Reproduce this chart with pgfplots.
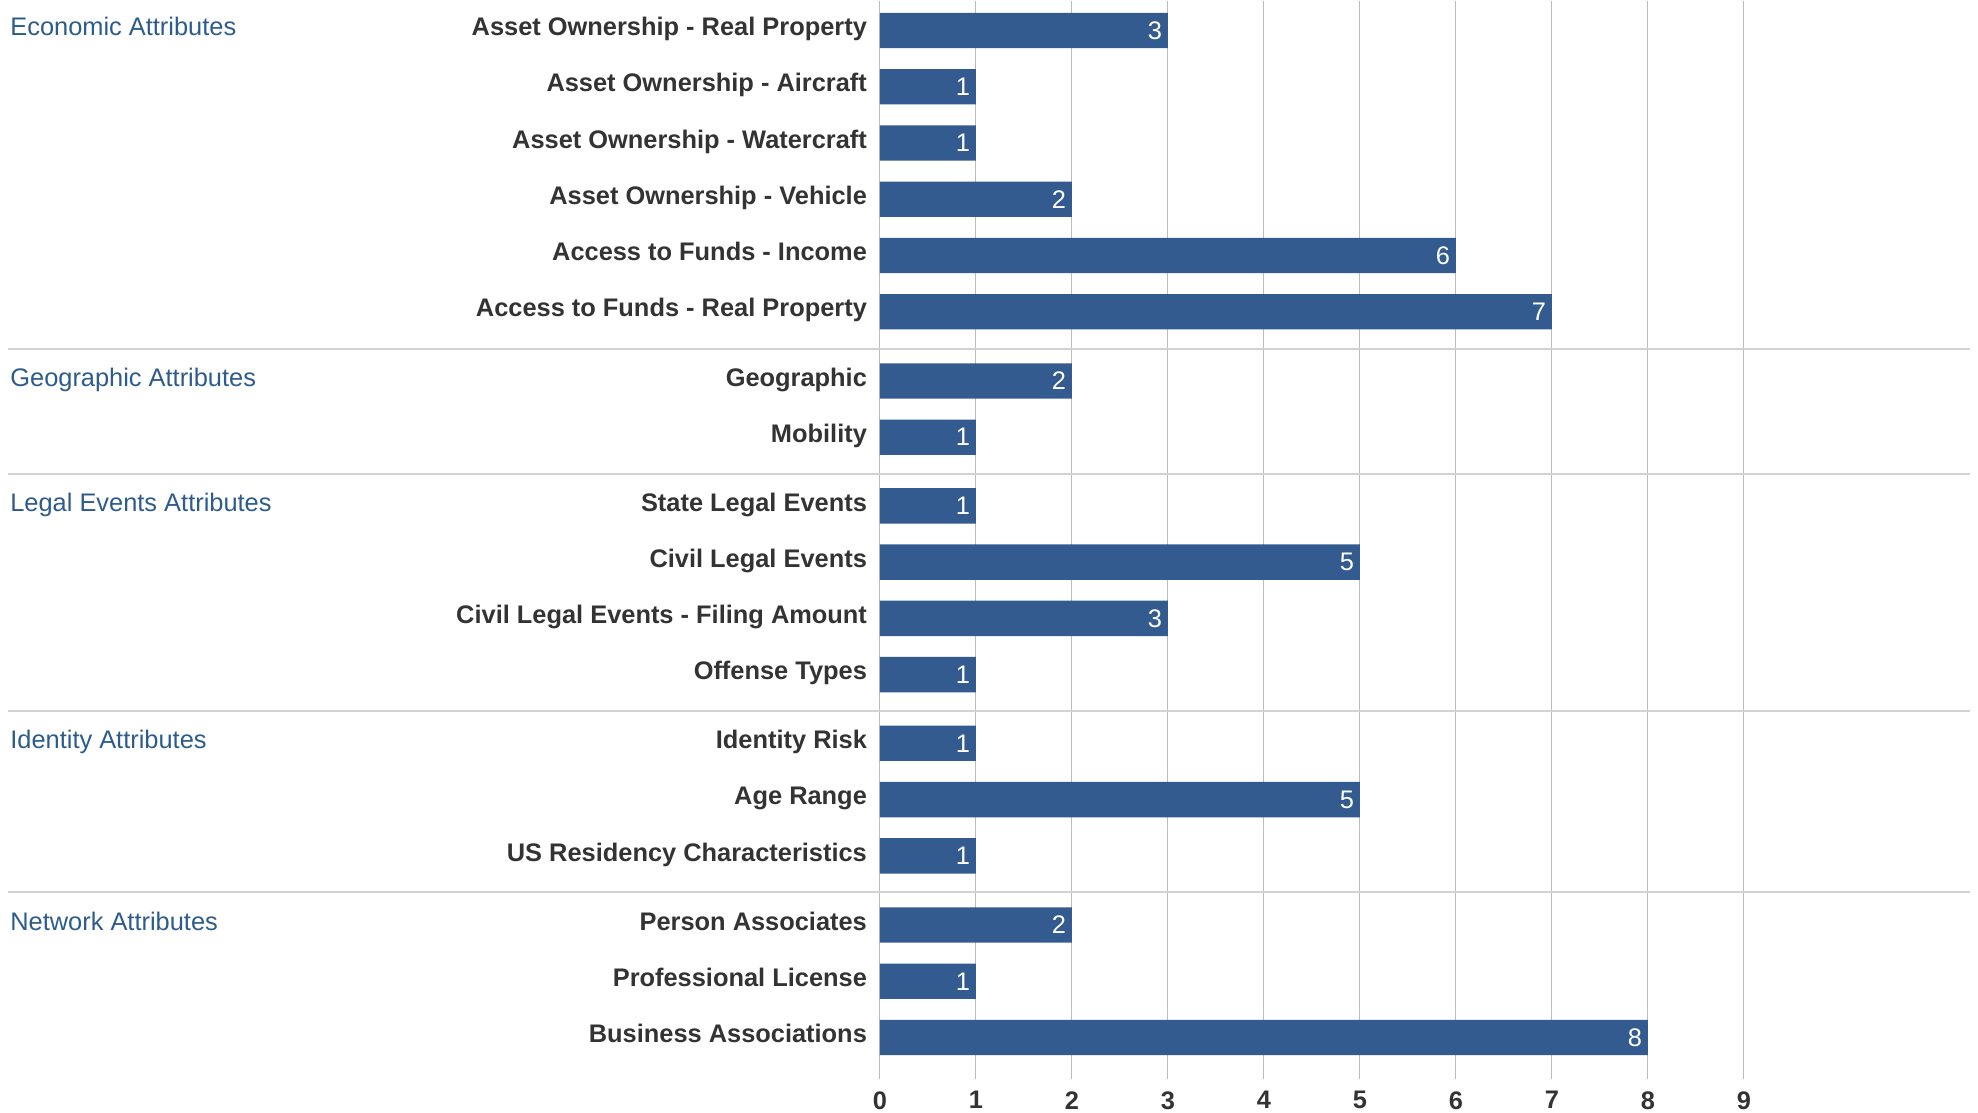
\documentclass[border=0pt]{standalone}
\usepackage{fontspec}
\setmainfont{Liberation Sans}
\usepackage{pgfplots}
\pgfplotsset{compat=1.18}
\definecolor{barblue}{RGB}{51,91,143}
\definecolor{grpblue}{RGB}{45,92,140}
\definecolor{txt}{RGB}{51,51,51}
\definecolor{gridc}{RGB}{188,188,188}
\definecolor{sepc}{RGB}{210,210,210}
\newcommand{\fs}{\fontsize{12.7}{15}\selectfont}
\begin{document}
\begin{tikzpicture}
\begin{axis}[
 at={(0,0)}, anchor=south west,
 scale only axis, width=544.8pt, height=538.7pt,
 xmin=0, xmax=11.35, ymin=-0.52, ymax=18.63, y dir=reverse,
 clip=false,
 axis line style={draw=none},
 major tick length=0pt,
 xtick={0,1,2,3,4,5,6,7,8,9},
 xmajorgrids, grid style={color=gridc, line width=0.5pt},
 /pgf/number format/assume math mode=true,
 xticklabel style={font=\fs\bfseries, text=txt, yshift=-2.8pt},
 ytick={0,1,2,3,4,5,6.23,7.23,8.45,9.45,10.45,11.45,12.67,13.67,14.67,15.9,16.9,17.9},
 yticklabels={Asset Ownership - Real Property, Asset Ownership - Aircraft, Asset Ownership - Watercraft, Asset Ownership - Vehicle, Access to Funds - Income, Access to Funds - Real Property, Geographic, Mobility, State Legal Events, Civil Legal Events, Civil Legal Events - Filing Amount, Offense Types, Identity Risk, Age Range, US Residency Characteristics, Person Associates, Professional License, Business Associations},
 yticklabel style={font=\fs\bfseries, text=txt, xshift=-3pt, text height=0.73em, text depth=0.21em},
 xbar, bar width=17.7pt,
 nodes near coords,
 every node near coord/.append style={anchor=east, text=white, font=\fs, inner sep=2.8pt},
]
\addplot[fill=barblue, draw=none] coordinates {
 (3,0) (1,1) (1,2) (2,3) (6,4) (7,5)
 (2,6.23) (1,7.23)
 (1,8.45) (5,9.45) (3,10.45) (1,11.45)
 (1,12.67) (5,13.67) (1,14.67)
 (2,15.9) (1,16.9) (8,17.9)
};
\draw[sepc, line width=1pt] ([xshift=-436pt]axis cs:0,5.67) -- (axis cs:11.35,5.67);
\draw[sepc, line width=1pt] ([xshift=-436pt]axis cs:0,7.89) -- (axis cs:11.35,7.89);
\draw[sepc, line width=1pt] ([xshift=-436pt]axis cs:0,12.09) -- (axis cs:11.35,12.09);
\draw[sepc, line width=1pt] ([xshift=-436pt]axis cs:0,15.31) -- (axis cs:11.35,15.31);
\node[anchor=west, text=grpblue, font=\fs, inner sep=0pt, text height=0.73em, text depth=0.21em] at ([xshift=-435pt]axis cs:0,0) {Economic Attributes};
\node[anchor=west, text=grpblue, font=\fs, inner sep=0pt, text height=0.73em, text depth=0.21em] at ([xshift=-435pt]axis cs:0,6.23) {Geographic Attributes};
\node[anchor=west, text=grpblue, font=\fs, inner sep=0pt, text height=0.73em, text depth=0.21em] at ([xshift=-435pt]axis cs:0,8.45) {Legal Events Attributes};
\node[anchor=west, text=grpblue, font=\fs, inner sep=0pt, text height=0.73em, text depth=0.21em] at ([xshift=-435pt]axis cs:0,12.67) {Identity Attributes};
\node[anchor=west, text=grpblue, font=\fs, inner sep=0pt, text height=0.73em, text depth=0.21em] at ([xshift=-435pt]axis cs:0,15.9) {Network Attributes};
\end{axis}
\pgfresetboundingbox
\path[use as bounding box] (-440pt,-17.2pt) rectangle (549pt,539.3pt);
\end{tikzpicture}
\end{document}
